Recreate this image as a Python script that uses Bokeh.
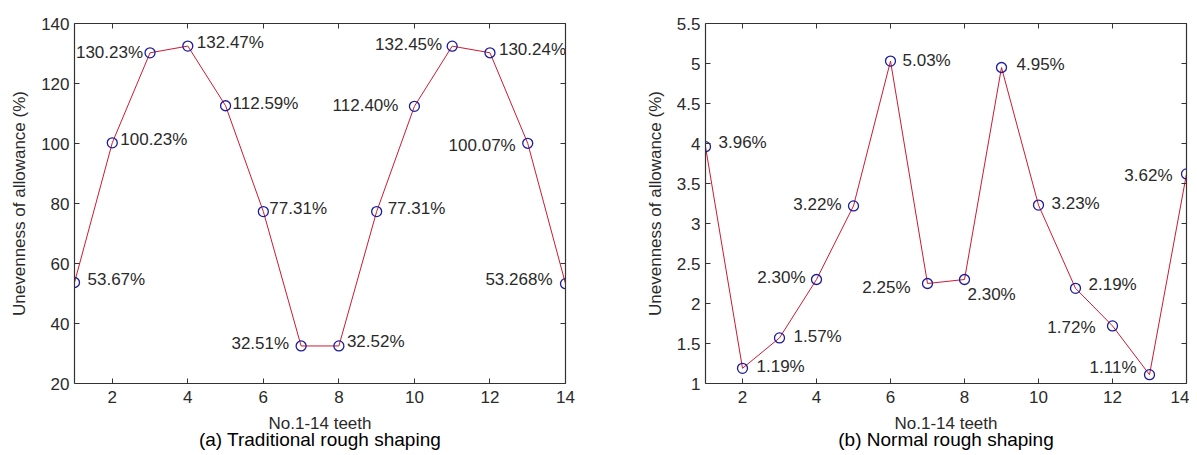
from bokeh.plotting import figure
from bokeh.models import (Range1d, LinearAxis, FixedTicker, ColumnDataSource,
                          CustomLabelingPolicy)
from bokeh.layouts import row
from bokeh.embed import file_html
from bokeh.resources import INLINE
from bokeh.core.properties import value

# ---------------- data ----------------
teeth = list(range(1, 15))
trad_vals = [53.67, 100.23, 130.23, 132.47, 112.59, 77.31, 32.51, 32.52,
             77.31, 112.40, 132.45, 130.24, 100.07, 53.268]
trad_labels = ["53.67%", "100.23%", "130.23%", "132.47%", "112.59%", "77.31%",
               "32.51%", "32.52%", "77.31%", "112.40%", "132.45%", "130.24%",
               "100.07%", "53.268%"]
norm_vals = [3.96, 1.19, 1.57, 2.30, 3.22, 5.03, 2.25, 2.30, 4.95, 3.23,
             2.19, 1.72, 1.11, 3.62]
norm_labels = ["3.96%", "1.19%", "1.57%", "2.30%", "3.22%", "5.03%", "2.25%",
               "2.30%", "4.95%", "3.23%", "2.19%", "1.72%", "1.11%", "3.62%"]
x_ticks = [2, 4, 6, 8, 10, 12, 14]
trad_yticks = [20, 40, 60, 80, 100, 120, 140]
norm_yticks = [1, 1.5, 2, 2.5, 3, 3.5, 4, 4.5, 5, 5.5]
norm_ytick_labels = ["1", "1.5", "2", "2.5", "3", "3.5", "4", "4.5", "5", "5.5"]
x_title = "No.1-14 teeth"
y_title = "Unevenness of allowance (%)"
captions = ["(a) Traditional rough shaping", "(b) Normal rough shaping"]

# ---------------- label placement (style, pixels) ----------------
trad_align = ["L", "L", "R", "L", "L", "L", "R", "L", "L", "R", "R", "L", "R", "R"]
trad_dx = [13, 8, -7, 9, 7, 6, -12, 8, 11, -16, -10, 9, -12, -13]
trad_dy = [-3, -3, 0, -4, -2, -3, -2, -4, -3, -1, -2, -3, 2, -4]
norm_align = ["L", "L", "L", "R", "R", "L", "R", "L", "L", "L", "L", "R", "R", "R"]
norm_dx = [13, 14, 14, -11, -12, 12, -17, 3, 15, 13, 13, -17, -13, -14]
norm_dy = [-4, -2, -1, -2, -1, -1, 4, 15, -3, -2, -4, 2, -7, 2]

FONT = value("Liberation Sans")
LINE_C = "#cc1a33"
MARK_C = "#1c1c9c"
AXIS_C = "#333333"
TEXT_C = "#2a2a2a"


def style_axis(ax, show_labels=True):
    ax.axis_line_color = AXIS_C
    ax.axis_line_width = 1.2
    ax.major_tick_line_color = AXIS_C
    ax.major_tick_in = 5
    ax.major_tick_out = 0
    ax.minor_tick_line_color = None
    ax.major_label_text_font = "Liberation Sans"
    ax.major_label_text_color = TEXT_C
    if show_labels:
        ax.major_label_text_font_size = "17px"
        ax.major_label_standoff = 7
    else:
        ax.major_label_text_font_size = "0px"
        ax.major_label_standoff = 0
        ax.major_label_policy = CustomLabelingPolicy(code="return new Set()")


def make_panel(vals, labels, align, dx, dy, yrange, yticks, ytick_labels,
               width, height, bl, br, bt, bb, caption):
    p = figure(width=width, height=height, x_range=Range1d(1, 14),
               y_range=Range1d(*yrange), output_backend="svg",
               toolbar_location=None, min_border_left=bl, min_border_right=br,
               min_border_top=bt, min_border_bottom=bb)
    p.xgrid.visible = False
    p.ygrid.visible = False
    p.outline_line_color = None
    p.background_fill_color = "white"
    p.border_fill_color = "white"

    p.xaxis.ticker = FixedTicker(ticks=x_ticks)
    p.yaxis.ticker = FixedTicker(ticks=yticks)
    if ytick_labels is not None:
        p.yaxis.major_label_overrides = {t: s for t, s in zip(yticks, ytick_labels)}
    style_axis(p.xaxis[0])
    style_axis(p.yaxis[0])
    p.yaxis.major_label_standoff = 5
    for ax in (p.xaxis[0], p.yaxis[0]):
        ax.axis_label_text_font = "Liberation Sans"
        ax.axis_label_text_font_size = "17px"
        ax.axis_label_text_font_style = "normal"
        ax.axis_label_text_color = TEXT_C
    p.yaxis.axis_label = y_title
    p.yaxis.axis_label_standoff = 9
    p.xaxis.axis_label = x_title
    p.xaxis.axis_label_standoff = 8

    top = LinearAxis(ticker=FixedTicker(ticks=x_ticks))
    style_axis(top, False)
    p.add_layout(top, "above")
    right = LinearAxis(ticker=FixedTicker(ticks=yticks))
    style_axis(right, False)
    p.add_layout(right, "right")

    # caption as an extra label-only axis under the x axis
    cap = LinearAxis(ticker=FixedTicker(ticks=[]), axis_label=caption)
    cap.axis_line_color = None
    cap.major_tick_line_color = None
    cap.minor_tick_line_color = None
    cap.major_tick_in = 0
    cap.major_tick_out = 0
    cap.major_label_standoff = 0
    cap.major_label_text_font_size = "0px"
    cap.axis_label_text_font = "Liberation Sans"
    cap.axis_label_text_font_size = "19px"
    cap.axis_label_text_font_style = "normal"
    cap.axis_label_text_color = "black"
    cap.axis_label_standoff = -7
    p.add_layout(cap, "below")

    p.line(teeth, vals, line_color=LINE_C, line_width=1)
    p.scatter(teeth, vals, marker="circle", size=10, fill_color=None,
              line_color=MARK_C, line_width=1.3)

    for side, ta in (("L", "left"), ("R", "right")):
        idx = [i for i, a in enumerate(align) if a == side]
        src = ColumnDataSource(dict(
            x=[teeth[i] for i in idx], y=[vals[i] for i in idx],
            t=[labels[i] for i in idx], dx=[dx[i] for i in idx],
            dy=[dy[i] for i in idx]))
        p.text(x="x", y="y", text="t", x_offset="dx", y_offset="dy",
               source=src, text_align=ta, text_baseline="middle",
               text_font=FONT, text_font_size="17px", text_color=TEXT_C)
    return p


p1 = make_panel(trad_vals, trad_labels, trad_align, trad_dx, trad_dy,
                (20, 140), trad_yticks, None, 640, 455, 74, 75, 14, 71,
                captions[0])
p2 = make_panel(norm_vals, norm_labels, norm_align, norm_dx, norm_dy,
                (1, 5.5), norm_yticks, norm_ytick_labels, 549, 455, 65, 3, 23, 72,
                captions[1])

layout = row(p1, p2)
open("out.html", "w").write(file_html(layout, INLINE))
